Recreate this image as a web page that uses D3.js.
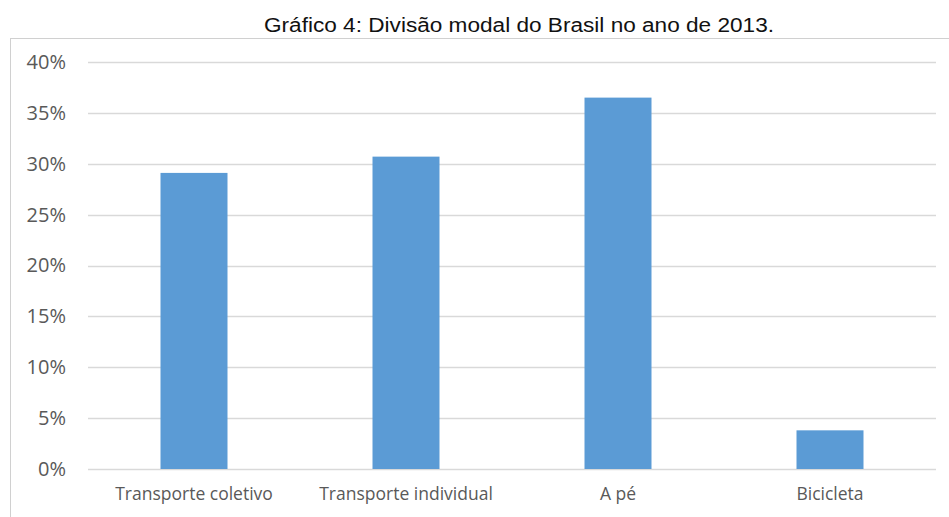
<!DOCTYPE html>
<html>
<head>
<meta charset="utf-8">
<script src="https://cdn.jsdelivr.net/npm/d3@7"></script>
<style>
  body { margin: 0; background: #fff; }
</style>
</head>
<body>
<div id="chart"></div>
<script>
// chart data
const categories = ["Transporte coletivo", "Transporte individual", "A pé", "Bicicleta"];
const shares = [29.1, 30.7, 36.5, 3.8];
const yTicks = [0, 5, 10, 15, 20, 25, 30, 35, 40];
const title = "Gráfico 4: Divisão modal do Brasil no ano de 2013.";

const W = 949, H = 517;
const margin = { top: 62, right: 13, bottom: 48, left: 88 };
const width = W - margin.left - margin.right;
const height = H - margin.top - margin.bottom;

const svg = d3.select("#chart")
    .append("svg")
    .attr("width", W)
    .attr("height", H);

// outer frame (clipped at right/bottom)
svg.append("rect")
    .attr("x", 10.5)
    .attr("y", 38.5)
    .attr("width", W)
    .attr("height", H)
    .attr("fill", "none")
    .attr("stroke", "#d0d0d0");

svg.append("text")
    .attr("x", 519)
    .attr("y", 32)
    .attr("text-anchor", "middle")
    .attr("font-family", "'Liberation Sans', Arial, sans-serif")
    .attr("font-size", 20)
    .attr("textLength", 510)
    .attr("lengthAdjust", "spacingAndGlyphs")
    .attr("fill", "#111")
    .text(title);

const g = svg.append("g")
    .attr("transform", "translate(" + margin.left + "," + margin.top + ")");

const x = d3.scaleBand()
    .domain(categories)
    .range([0, width])
    .paddingInner(0.684)
    .paddingOuter(0.342);

const y = d3.scaleLinear()
    .domain([0, 40])
    .range([height, 0]);

// gridlines
g.selectAll("line.grid")
    .data(yTicks)
    .enter()
    .append("line")
    .attr("class", "grid")
    .attr("x1", 0)
    .attr("x2", width)
    .attr("y1", d => Math.round(y(d)) + 0.5)
    .attr("y2", d => Math.round(y(d)) + 0.5)
    .attr("stroke", "#d9d9d9")
    .attr("stroke-width", 1.5);

// y axis labels
const yAxis = g.append("g")
    .call(d3.axisLeft(y).tickValues(yTicks).tickFormat(d => d + "%").tickSize(0).tickPadding(22));
yAxis.select(".domain").remove();
yAxis.selectAll("text")
    .attr("font-family", "'Open Sans', 'Noto Sans', sans-serif")
    .attr("font-size", 20)
    .attr("fill", "#595959");

// bars
g.selectAll("rect.bar")
    .data(shares)
    .enter()
    .append("rect")
    .attr("class", "bar")
    .attr("x", (d, i) => x(categories[i]))
    .attr("y", d => y(d))
    .attr("width", x.bandwidth())
    .attr("height", d => height - y(d))
    .attr("fill", "#5b9bd5");

// x axis labels
const xAxis = g.append("g")
    .attr("transform", "translate(0," + height + ")")
    .call(d3.axisBottom(x).tickSize(0).tickPadding(19));
xAxis.select(".domain").remove();
xAxis.selectAll("text")
    .attr("font-family", "'Open Sans', 'Noto Sans', sans-serif")
    .attr("font-size", 17.5)
    .attr("fill", "#595959");
</script>
</body>
</html>
